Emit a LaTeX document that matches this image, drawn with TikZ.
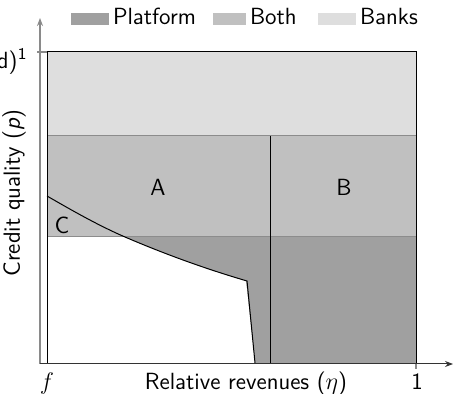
\documentclass[tikz,border=0pt]{standalone}
\usetikzlibrary{arrows.meta}
\definecolor{platc}{HTML}{A0A0A0}
\definecolor{bothc}{HTML}{C0C0C0}
\definecolor{bankc}{HTML}{DEDEDE}
\definecolor{axisc}{HTML}{8A8A8A}
\definecolor{edgec}{HTML}{8C8C8C}
\begin{document}
\begin{tikzpicture}[x=0.5pt,y=-0.5pt,
  every node/.style={inner sep=0pt,outer sep=0pt,font=\sffamily\fontsize{11.7}{14}\selectfont},
  lab/.style={anchor=base},
  legtext/.style={anchor=base west},
  frameline/.style={black,line width=0.5pt},
  edgeline/.style={edgec,line width=0.5pt},
  curveline/.style={black,line width=0.5pt},
  axisline/.style={axisc,line width=1pt,-{Stealth[length=4pt,width=3pt]}}]
\useasboundingbox (0,0) rectangle (454,394);
% regions
\fill[bankc] (47,52) rectangle (416,136);
\fill[bothc] (47,136) rectangle (416,237);
\fill[platc] (47,237) rectangle (416,363);
\fill[white] (47,237) -- (125,237) .. controls (165,254.2) and (206,269) .. (246,281) -- (255,363) -- (47,363) -- cycle;
% boundaries
\draw[edgeline] (47,136) -- (416,136);
\draw[edgeline] (47,237) -- (416,237);
\coordinate (c0) at (47,196);
\coordinate (c1) at (125,237);
\coordinate (c2) at (247,281);
\coordinate (c3) at (255,363);
\draw[curveline] (c0) .. controls (73,211) and (99,225.8) .. (c1) .. controls (165,254.2) and (206,269) .. (c2) -- (c3);
\coordinate (v0) at (270,136);
\coordinate (v1) at (270,363);
\draw[frameline] (v0) -- (v1);
% frame
\coordinate (tl) at (47,52);
\coordinate (tr) at (416,52);
\coordinate (br) at (416,363);
\coordinate (bl) at (47,363);
\draw[frameline] (bl) -- (tl) -- (tr) -- (br);
% axes
\coordinate (o) at (40,364);
\coordinate (ytop) at (40,18);
\coordinate (xend) at (453,364);
\draw[axisline] (o) -- (ytop);
\draw[black!80,line width=0.5pt,-{Stealth[length=4pt,width=3pt]}] (o) -- (xend);
\draw[axisc,line width=0.6pt] (37,52) -- (47,52);
\draw[axisc,line width=0.6pt] (416,364) -- (416,369);
% labels
\node[lab] (A) at (158,196) {A};
\node[lab] (B) at (344,196) {B};
\node[lab] (C) at (62,234) {C};
\node[rotate=90] (ylab) at (14,193) {Credit quality (\textit{p})};
\node[lab] (xlab) at (246,389) {Relative revenues ($\eta$)};
\node[lab] (f) at (47,389) {$f$};
\node[lab] (one) at (417,389) {1};
\node[anchor=base east] (cut) at (17.5,69) {d)};
\node[anchor=base west,font=\sffamily\fontsize{8.2}{9}\selectfont] (sup) at (18,60) {1};
% legend
\fill[platc] (71,13) rectangle (109,25);
\node[legtext] (lp) at (113,25) {Platform};
\fill[bothc] (213,13) rectangle (246,25);
\node[legtext] (lb) at (250,25) {Both};
\fill[bankc] (318,13) rectangle (356,25);
\node[legtext] (lk) at (360,25) {Banks};
\end{tikzpicture}
\end{document}
